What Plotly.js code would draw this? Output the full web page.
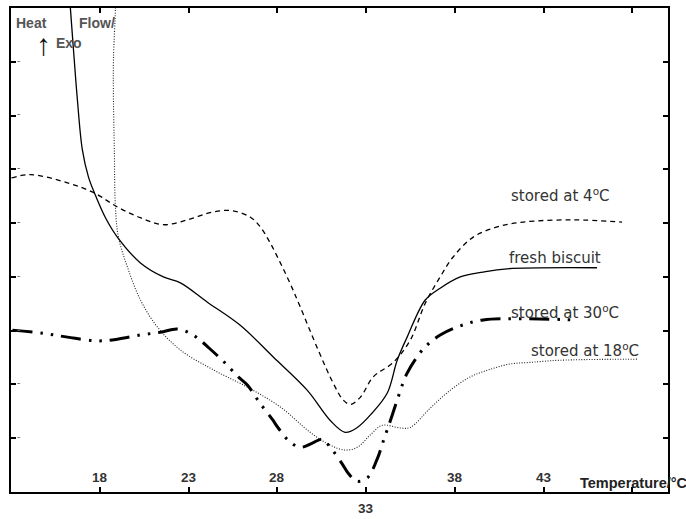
<!DOCTYPE html>
<html>
<head>
<meta charset="utf-8">
<script src="https://cdn.plot.ly/plotly-3.0.1.min.js"></script>
<style>html,body{margin:0;padding:0;background:#fff;}#chart{width:686px;height:519px;}</style>
</head>
<body>
<div id="chart"></div>
<script>
// ---- data (temperature in °C, heat flow in arbitrary units) ----
const xTicks = [18, 23, 28, 33, 38, 43, 48];
const xTickLabels = ['18', '23', '28', '33', '38', '43', ''];
const yTicks = [1, 2, 3, 4, 5, 6, 7, 8];

const seriesNames = ['fresh biscuit', 'stored at 4<sup>o</sup>C', 'stored at 18<sup>o</sup>C', 'stored at 30<sup>o</sup>C'];

const freshX = [16.29,16.35,16.52,16.74,17.02,17.36,17.70,18.32,18.99,20.29,21.58,22.54,24.06,25.91,27.77,29.69,30.98,31.82,32.50,33.34,34.19,34.75,35.31,36.33,37.17,38.30,39.59,40.94,46.00];
const freshY = [9.25,8.97,8.22,7.29,6.36,5.86,5.56,5.10,4.74,4.26,4.00,3.89,3.53,3.10,2.51,1.89,1.33,1.11,1.20,1.47,1.84,2.45,2.88,3.57,3.79,4.00,4.09,4.15,4.17];

const stored4X = [13.03,14.10,16.18,17.70,18.99,20.29,21.58,22.93,24.40,25.46,26.48,27.04,27.60,28.17,28.73,29.29,30.30,31.15,31.71,32.11,32.67,33.40,34.53,35.48,36.33,37.17,37.90,39.03,40.38,41.84,44.66,47.41];
const stored4Y = [5.84,5.90,5.75,5.56,5.30,5.10,4.97,5.06,5.21,5.23,5.11,4.93,4.63,4.26,3.87,3.44,2.64,2.02,1.71,1.63,1.76,2.14,2.41,2.82,3.51,4.00,4.37,4.74,4.93,5.02,5.06,5.02];

const stored18X = [18.88,18.88,18.77,18.77,18.82,18.88,19.05,19.56,20.29,21.24,22.54,24.40,26.31,28.17,29.85,30.98,31.82,32.50,33.23,33.91,34.92,35.48,36.61,37.73,38.86,39.98,41.11,42.24,43.92,48.26];
const stored18Y = [9.25,8.99,8.04,7.29,6.36,5.30,4.74,4.18,3.57,3.07,2.64,2.27,1.95,1.58,1.11,0.87,0.78,0.83,1.06,1.24,1.19,1.20,1.56,1.89,2.14,2.28,2.38,2.41,2.45,2.47];

const stored30X = [13.08,14.83,16.18,17.87,18.99,20.29,21.41,22.37,23.10,23.66,24.11,24.96,25.80,26.31,26.98,27.72,28.05,28.62,29.29,29.97,30.53,30.98,31.66,31.99,32.50,33.06,33.62,34.02,34.41,34.75,35.31,36.21,36.72,37.17,38.30,39.59,41.84,44.88];
const stored30Y = [3.01,2.95,2.88,2.81,2.84,2.92,2.97,3.03,2.95,2.82,2.69,2.43,2.14,1.99,1.67,1.35,1.19,0.96,0.83,0.91,0.98,0.83,0.52,0.35,0.20,0.26,0.61,1.00,1.37,1.71,2.21,2.66,2.81,2.92,3.09,3.20,3.22,3.20];

// ---- traces ----
function tr(x, y, name, line) {
  return {x: x, y: y, name: name, mode: 'lines', type: 'scatter', hoverinfo: 'skip',
          line: Object.assign({shape: 'spline', smoothing: 1}, line)};
}
const data = [
  tr(freshX, freshY, seriesNames[0], {color: '#000', width: 1.3}),
  tr(stored4X, stored4Y, seriesNames[1], {color: '#000', width: 1.3, dash: '5px,4px'}),
  tr(stored18X, stored18Y, seriesNames[2], {color: '#222', width: 1.1, dash: '1px,1.6px'}),
  tr(stored30X, stored30Y, seriesNames[3], {color: '#000', width: 3, dash: '20px,8px,2.5px,8px,2.5px,8px'})
];

// ---- annotations ----
const numFont = {family: 'Liberation Sans, Arial, sans-serif', size: 13.5, color: '#333'};
const annotations = [];
xTicks.forEach(function (v, i) {
  if (!xTickLabels[i]) return;
  const below = (xTickLabels[i] === '33');
  annotations.push({x: v, xref: 'x', y: below ? -0.035 : 0.03, yref: 'paper',
    text: '<b>' + xTickLabels[i] + '</b>', showarrow: false, font: numFont,
    xanchor: 'center', yanchor: 'middle'});
});
annotations.push({x: 13 + (578 - 10.5) / 17.77, xref: 'x', y: 0.018, yref: 'paper', text: '<b>Temperature/°C</b>',
  showarrow: false, font: {family: 'Liberation Sans, Arial, sans-serif', size: 14.5, color: '#222'},
  xanchor: 'left', yanchor: 'middle'});

// small grey marks beside the left ticks
yTicks.forEach(function (v) {
  annotations.push({x: 13.45, y: v + 0.03, xref: 'x', yref: 'y', text: '-', showarrow: false,
    font: {family: 'Liberation Sans, Arial', size: 10, color: '#666'}, xanchor: 'center', yanchor: 'middle'});
});

// series labels
const lblFont = {family: 'DejaVu Sans, Verdana, sans-serif', size: 15, color: '#333'};
const lblPos = [[43.64, 4.35], [43.95, 5.52], [45.3, 2.64], [44.2, 3.35]];
seriesNames.forEach(function (n, i) {
  annotations.push({x: lblPos[i][0], y: lblPos[i][1], xref: 'x', yref: 'y', text: n,
    showarrow: false, font: lblFont, xanchor: 'center', yanchor: 'middle'});
});

// Heat Flow / Exo
const hfFont = {family: 'Liberation Sans, Arial, sans-serif', size: 14, color: '#555'};
annotations.push({x: 14.18, y: 8.73, xref: 'x', yref: 'y', text: '<b>Heat</b>', showarrow: false, font: hfFont});
annotations.push({x: 17.85, y: 8.73, xref: 'x', yref: 'y', text: '<b>Flow/</b>', showarrow: false, font: hfFont});
annotations.push({x: 16.27, y: 8.35, xref: 'x', yref: 'y', text: '<b>Exo</b>', showarrow: false, font: hfFont});
annotations.push({x: 14.83, y: 8.32, xref: 'x', yref: 'y', text: '↑', showarrow: false,
  font: {family: 'Liberation Sans, Arial, sans-serif', size: 30, color: '#111'}, xanchor: 'center', yanchor: 'middle'});

const layout = {
  width: 686, height: 519,
  margin: {l: 11, r: 18, t: 8, b: 27, pad: 0},
  paper_bgcolor: '#fff', plot_bgcolor: '#fff',
  showlegend: false,
  xaxis: {range: [13, 50], tickvals: xTicks, showticklabels: false, ticks: 'inside', ticklen: 5,
    tickwidth: 2, tickcolor: '#000', showline: true, linecolor: '#000', linewidth: 2.4,
    mirror: 'ticks', showgrid: false, zeroline: false, fixedrange: true},
  yaxis: {range: [0, 9], tickvals: yTicks, showticklabels: false,
    ticks: 'inside', ticklen: 5, tickwidth: 2, tickcolor: '#000', showline: true, linecolor: '#000',
    linewidth: 2.4, mirror: 'ticks', showgrid: false, zeroline: false, fixedrange: true},
  annotations: annotations
};

Plotly.newPlot('chart', data, layout, {displayModeBar: false, staticPlot: true});
</script>
</body>
</html>
